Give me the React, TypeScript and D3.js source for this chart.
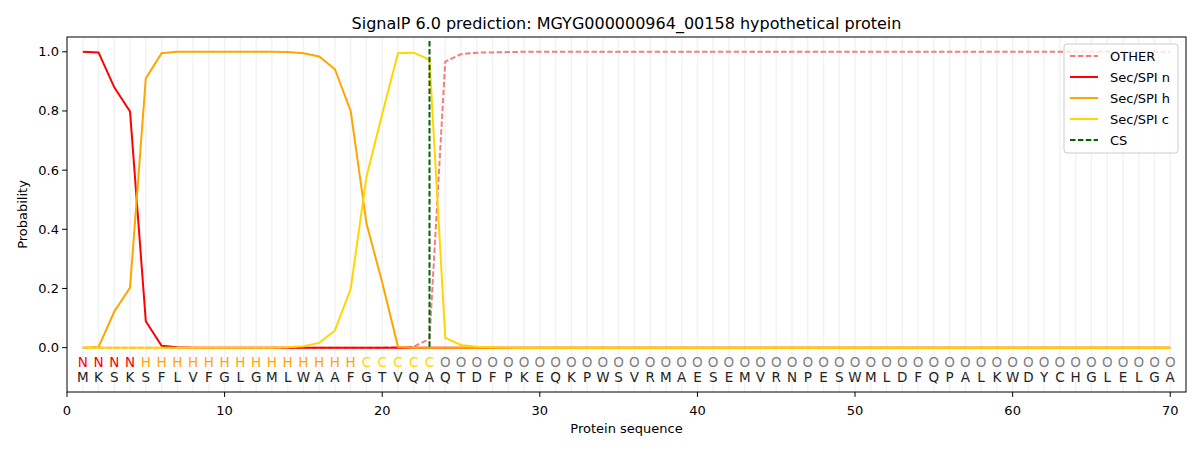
import * as d3 from "d3";

const sequence = "MKSKSFLVFGLGMLWAAFGTVQAQTDFPKEQKPWSVRMAESEMVRNPESWMLDFQPALKWDYCHGLELGA".split("");
const regions = "NNNNHHHHHHHHHHHHHHCCCCC".padEnd(70, "O").split("");

const otherProb = [
  0, 0, 0, 0, 0, 0, 0, 0, 0, 0, 0, 0, 0, 0, 0, 0, 0, 0, 0, 0, 0.001, 0.003, 0.03, 0.967, 0.992, 0.997, 0.998, 0.999,
  ...Array(42).fill(1),
];
const secN = [
  1.0, 0.998, 0.88, 0.798, 0.089, 0.006, 0.001, 0, 0, 0, 0, 0, 0, 0, 0, 0, 0, 0, 0, 0, 0, 0, 0, 0, 0, 0, 0, 0,
  ...Array(42).fill(0),
];
const secH = [
  0, 0.002, 0.122, 0.203, 0.91, 0.995, 1.0, 1.0, 1.0, 1.0, 1.0, 1.0, 1.0, 0.999, 0.995, 0.984, 0.941, 0.8, 0.42,
  0.22, 0.003, 0, 0, 0, 0, 0, 0, 0,
  ...Array(42).fill(0),
];
const secC = [
  0, 0, 0, 0, 0, 0, 0, 0, 0, 0, 0, 0, 0, 0.001, 0.005, 0.016, 0.058, 0.199, 0.577, 0.79, 0.995, 0.997, 0.973, 0.033,
  0.009, 0.003, 0.001, 0,
  ...Array(42).fill(0),
];
const csPos = 23;

const series = [
  { name: "OTHER", values: otherProb, color: "#f08080", dash: "5.5,2.4" },
  { name: "Sec/SPI n", values: secN, color: "#ff0000", dash: "" },
  { name: "Sec/SPI h", values: secH, color: "#ffa500", dash: "" },
  { name: "Sec/SPI c", values: secC, color: "#ffd700", dash: "" },
];
const regionColor: Record<string, string> = { N: "#ff0000", H: "#ffa500", C: "#ffd700", O: "#808080" };
const xTicks = [0, 10, 20, 30, 40, 50, 60, 70];
const yTicks = [0, 0.2, 0.4, 0.6, 0.8, 1.0];

const W = 1200;
const H = 450;
const m = { left: 67, right: 1186, top: 37, bottom: 392 };
const font = "DejaVu Sans, sans-serif";

export default function App() {
  const x = d3.scaleLinear([0, 71], [m.left, m.right]);
  const y = d3.scaleLinear([-0.15, 1.05], [m.bottom, m.top]);
  const line = d3
    .line<number>()
    .x((_, i) => x(i + 1))
    .y((d) => y(d));
  const residues = d3.range(1, sequence.length + 1);

  return (
    <svg
      width={W}
      height={H}
      style={{ position: "absolute", left: 0, top: 0, background: "#fff" }}
      fontFamily={font}
    >
      <rect width={W} height={H} fill="#fff" />
      {/* residue grid */}
      {residues.map((i) => (
        <line key={i} x1={x(i)} x2={x(i)} y1={m.top} y2={m.bottom} stroke="#000" strokeOpacity={0.05} strokeWidth={1.5} />
      ))}
      {series.map((s) => (
        <path
          key={s.name}
          d={line(s.values) ?? ""}
          fill="none"
          stroke={s.color}
          strokeWidth={2}
          strokeDasharray={s.dash || undefined}
        />
      ))}
      <line x1={x(csPos)} x2={x(csPos)} y1={m.top + 4} y2={m.bottom - 44} stroke="#006400" strokeWidth={2} strokeDasharray="5.5,2.4" />
      {/* residue labels */}
      {residues.map((i) => (
        <g key={i} fontSize={13.5} textAnchor="middle" dominantBaseline="central">
          <text x={x(i)} y={y(-0.047)} fill={regionColor[regions[i - 1]]}>
            {regions[i - 1]}
          </text>
          <text x={x(i)} y={y(-0.098)} fill="#222">
            {sequence[i - 1]}
          </text>
        </g>
      ))}
      {/* axes frame */}
      <rect x={m.left} y={m.top} width={m.right - m.left} height={m.bottom - m.top} fill="none" stroke="#000" strokeWidth={1} />
      {xTicks.map((t) => (
        <g key={t} transform={`translate(${x(t)},${m.bottom})`}>
          <line y2={4.9} stroke="#000" />
          <text y={18} textAnchor="middle" fontSize={13} dominantBaseline="central">
            {t}
          </text>
        </g>
      ))}
      {yTicks.map((t) => (
        <g key={t} transform={`translate(${m.left},${y(t)})`}>
          <line x2={-4.9} stroke="#000" />
          <text x={-8} textAnchor="end" fontSize={13} dominantBaseline="central">
            {t.toFixed(1)}
          </text>
        </g>
      ))}
      <text x={(m.left + m.right) / 2} y={428} textAnchor="middle" fontSize={13} dominantBaseline="central">
        Protein sequence
      </text>
      <text
        transform={`translate(22,${(m.top + m.bottom) / 2}) rotate(-90)`}
        textAnchor="middle"
        fontSize={13}
        dominantBaseline="central"
      >
        Probability
      </text>
      <text x={(m.left + m.right) / 2} y={23} textAnchor="middle" fontSize={16} dominantBaseline="central">
        SignalP 6.0 prediction: MGYG000000964_00158 hypothetical protein
      </text>
      {/* legend */}
      <g transform="translate(1064,44)">
        <rect width={114} height={109} rx={3} fill="#fff" fillOpacity={0.8} stroke="#ccc" />
        {[...series, { name: "CS", color: "#006400", dash: "5.5,2.4" }].map((s, i) => (
          <g key={s.name} transform={`translate(0,${12 + i * 21})`}>
            <line x1={6} x2={34} stroke={s.color} strokeWidth={2} strokeDasharray={s.dash || undefined} />
            <text x={46} fontSize={13} dominantBaseline="central">
              {s.name}
            </text>
          </g>
        ))}
      </g>
    </svg>
  );
}
